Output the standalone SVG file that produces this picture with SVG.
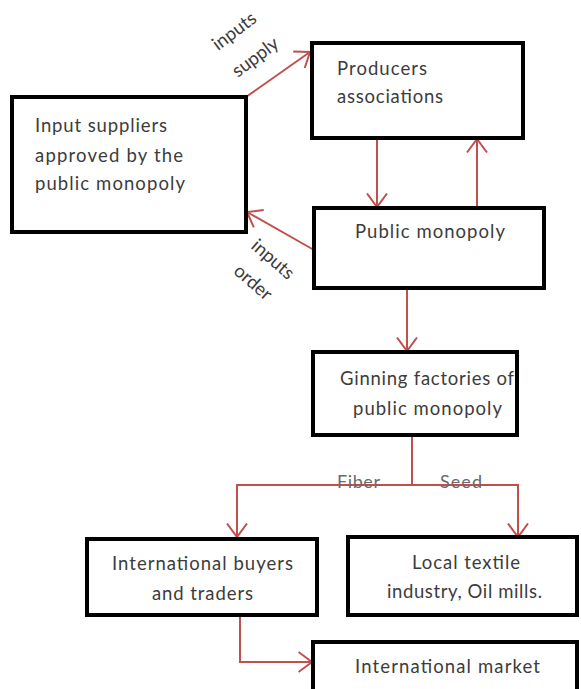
<svg xmlns="http://www.w3.org/2000/svg" width="581" height="689" viewBox="0 0 581 689">
<style>
.box{fill:#fff;stroke:#000;stroke-width:4}
.t{font-family:Lato,"Liberation Sans",sans-serif;font-size:18.5px;fill:#3c3c3c}
.lbl{font-family:Lato,"Liberation Sans",sans-serif;font-size:18px;fill:#6a6a6a}
.c{fill:none;stroke:#c0504d;stroke-width:2}
</style>
<defs>
<marker id="a" viewBox="0 0 16 24" refX="14.5" refY="12" markerWidth="16" markerHeight="24" markerUnits="userSpaceOnUse" orient="auto">
<path d="M1 2 L14.5 12 L1 22" fill="none" stroke="#c0504d" stroke-width="2"/>
</marker>
</defs>
<rect width="581" height="689" fill="#fff"/>
<g id="connectors">
<line class="c" x1="246" y1="97" x2="310" y2="52" marker-end="url(#a)"/>
<line class="c" x1="314" y1="250" x2="247" y2="212" marker-end="url(#a)"/>
<line class="c" x1="377" y1="138" x2="377" y2="207" marker-end="url(#a)"/>
<line class="c" x1="477" y1="208" x2="477" y2="139" marker-end="url(#a)"/>
<line class="c" x1="407" y1="288" x2="407" y2="351" marker-end="url(#a)"/>
<line class="c" x1="412" y1="435" x2="412" y2="485"/>
<path class="c" d="M237 536 V485 H518 V536"/>
<line class="c" x1="237" y1="500" x2="237" y2="537" marker-end="url(#a)"/>
<line class="c" x1="518" y1="500" x2="518" y2="537" marker-end="url(#a)"/>
<path class="c" d="M240 615 V662 H312" marker-end="url(#a)"/>
<text class="lbl" x="337" y="488" textLength="43" lengthAdjust="spacing">Fiber</text>
<text class="lbl" x="440" y="488" textLength="42" lengthAdjust="spacing">Seed</text>
<g class="t">
<text transform="translate(238 36) rotate(-37)" text-anchor="middle">inputs</text>
<text transform="translate(259 62) rotate(-37)" text-anchor="middle">supply</text>
<text transform="translate(269 264) rotate(41)" text-anchor="middle">inputs</text>
<text transform="translate(249 287) rotate(41)" text-anchor="middle">order</text>
</g>
</g>
<g id="input-suppliers">
<rect class="box" x="12" y="97" width="234" height="135"/>
<text class="t" x="35" y="132" textLength="132" lengthAdjust="spacing">Input suppliers</text>
<text class="t" x="35" y="162" textLength="148" lengthAdjust="spacing">approved by the</text>
<text class="t" x="35" y="190" textLength="150" lengthAdjust="spacing">public monopoly</text>
</g>
<g id="producers">
<rect class="box" x="312" y="43" width="211" height="95"/>
<text class="t" x="337" y="75" textLength="90" lengthAdjust="spacing">Producers</text>
<text class="t" x="337" y="103" textLength="106" lengthAdjust="spacing">associations</text>
</g>
<g id="public-monopoly">
<rect class="box" x="314" y="208" width="230" height="80"/>
<text class="t" x="355" y="238" textLength="150" lengthAdjust="spacing">Public monopoly</text>
</g>
<g id="ginning">
<rect class="box" x="313" y="352" width="204" height="83"/>
<text class="t" x="340" y="385" textLength="174" lengthAdjust="spacing">Ginning factories of</text>
<text class="t" x="353" y="415" textLength="149" lengthAdjust="spacing">public monopoly</text>
</g>
<g id="intl-buyers">
<rect class="box" x="87" y="539" width="230" height="76"/>
<text class="t" x="112" y="570" textLength="181" lengthAdjust="spacing">International buyers</text>
<text class="t" x="152" y="600" textLength="101" lengthAdjust="spacing">and traders</text>
</g>
<g id="local-textile">
<rect class="box" x="348" y="537" width="229" height="78"/>
<text class="t" x="412" y="569" textLength="108" lengthAdjust="spacing">Local textile</text>
<text class="t" x="387" y="598" textLength="155" lengthAdjust="spacing">industry, Oil mills.</text>
</g>
<g id="intl-market">
<rect class="box" x="313" y="642" width="264" height="52"/>
<text class="t" x="355" y="673" textLength="185" lengthAdjust="spacing">International market</text>
</g>
</svg>
